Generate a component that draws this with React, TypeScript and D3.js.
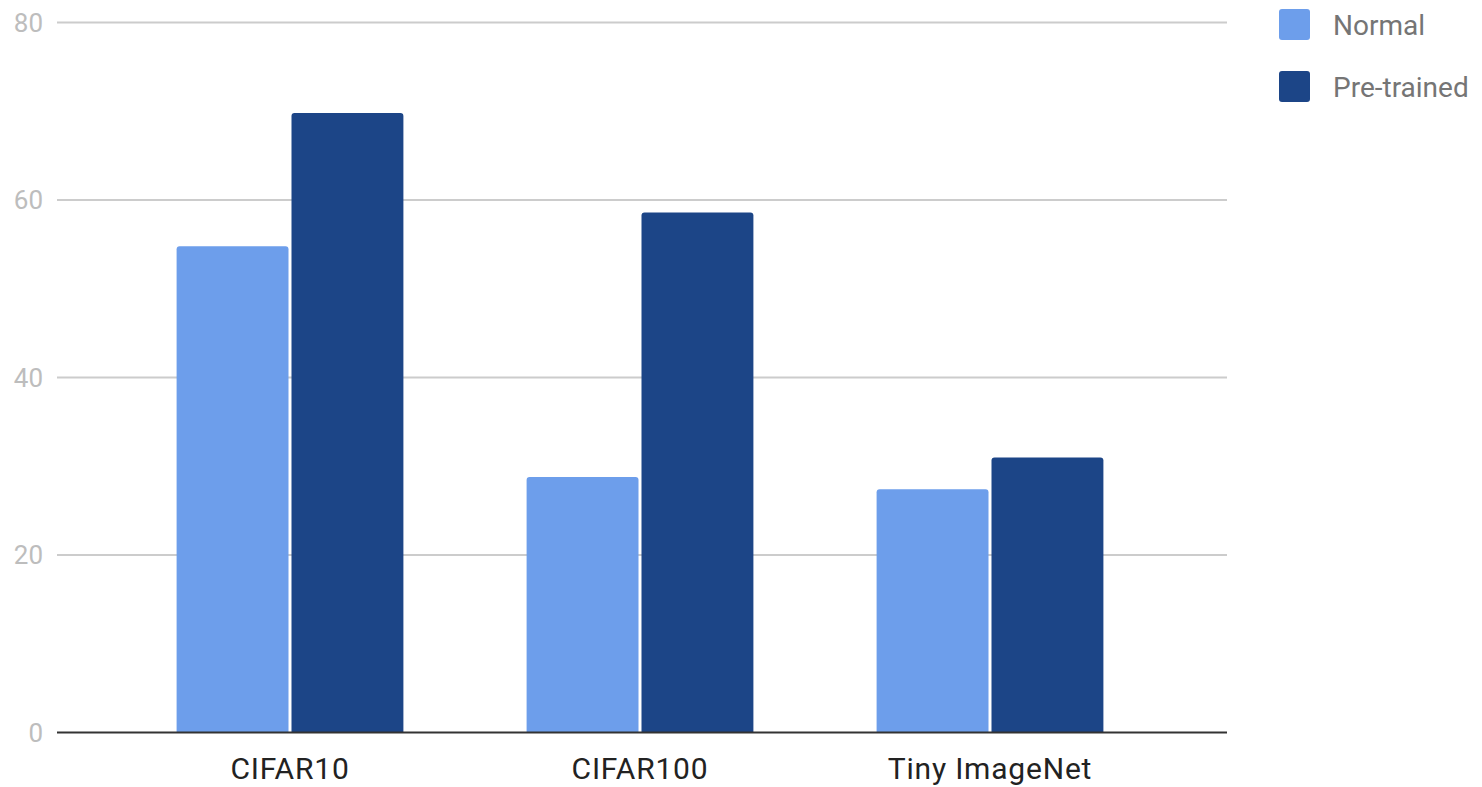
import React from "react";
import * as d3 from "d3";

const categories = ["CIFAR10", "CIFAR100", "Tiny ImageNet"];
const seriesNames = ["Normal", "Pre-trained"];
const normalValues = [54.8, 28.8, 27.4];
const pretrainedValues = [69.8, 58.6, 31.0];
const yTicks = [0, 20, 40, 60, 80];
const colors = ["#6d9eeb", "#1c4587"];

const W = 1482;
const H = 787;

function topRoundedBar(x: number, y: number, w: number, h: number, r: number) {
  const rr = Math.min(r, h, w / 2);
  return `M${x},${y + h}V${y + rr}Q${x},${y} ${x + rr},${y}H${x + w - rr}Q${x + w},${y} ${x + w},${y + rr}V${y + h}Z`;
}

export default function App() {
  const y = d3.scaleLinear().domain([0, 80]).range([732.5, 22.5]);
  const x0 = d3
    .scaleBand<string>()
    .domain(categories)
    .range([115, 1165])
    .paddingInner(0.352)
    .paddingOuter(0.176);
  const x1 = d3
    .scaleBand<string>()
    .domain(seriesNames)
    .range([0, x0.bandwidth()])
    .paddingInner(0.026);

  const seriesValues = [normalValues, pretrainedValues];
  const gridLeft = 57;
  const gridRight = 1227;

  return (
    <svg
      width={W}
      height={H}
      style={{ position: "absolute", left: 0, top: 0, background: "#fff" }}
      fontFamily="Roboto, 'Noto Sans', sans-serif"
    >
      {/* horizontal gridlines and y tick labels */}
      {yTicks.map((t) => (
        <g key={t}>
          {t !== 0 && (
            <line
              x1={gridLeft}
              x2={gridRight}
              y1={y(t)}
              y2={y(t)}
              stroke="#cccccc"
              strokeWidth={2}
            />
          )}
          <text
            x={43}
            y={y(t)}
            dy="0.36em"
            textAnchor="end"
            fontSize={26}
            fill="#bdbdbd"
          >
            {t}
          </text>
        </g>
      ))}

      {/* bars */}
      {categories.map((c, i) => (
        <g key={c} transform={`translate(${x0(c)},0)`}>
          {seriesNames.map((s, j) => {
            const v = seriesValues[j][i];
            const top = y(v);
            return (
              <path
                key={s}
                d={topRoundedBar(x1(s)!, top, x1.bandwidth(), y(0) - top, 3)}
                fill={colors[j]}
              />
            );
          })}
        </g>
      ))}

      {/* baseline */}
      <line
        x1={gridLeft}
        x2={gridRight}
        y1={y(0)}
        y2={y(0)}
        stroke="#333333"
        strokeWidth={2}
      />

      {/* category labels */}
      {categories.map((c) => (
        <text
          key={c}
          x={x0(c)! + x0.bandwidth() / 2}
          y={779}
          textAnchor="middle"
          fontSize={30}
          letterSpacing={0.8}
          fill="#222222"
        >
          {c}
        </text>
      ))}

      {/* legend */}
      {seriesNames.map((s, j) => (
        <g key={s} transform={`translate(1279,${9 + j * 62})`}>
          <rect width={31} height={31} rx={3} fill={colors[j]} />
          <text x={54} y={15.5} dy="0.36em" fontSize={28} fill="#757575">
            {s}
          </text>
        </g>
      ))}
    </svg>
  );
}
